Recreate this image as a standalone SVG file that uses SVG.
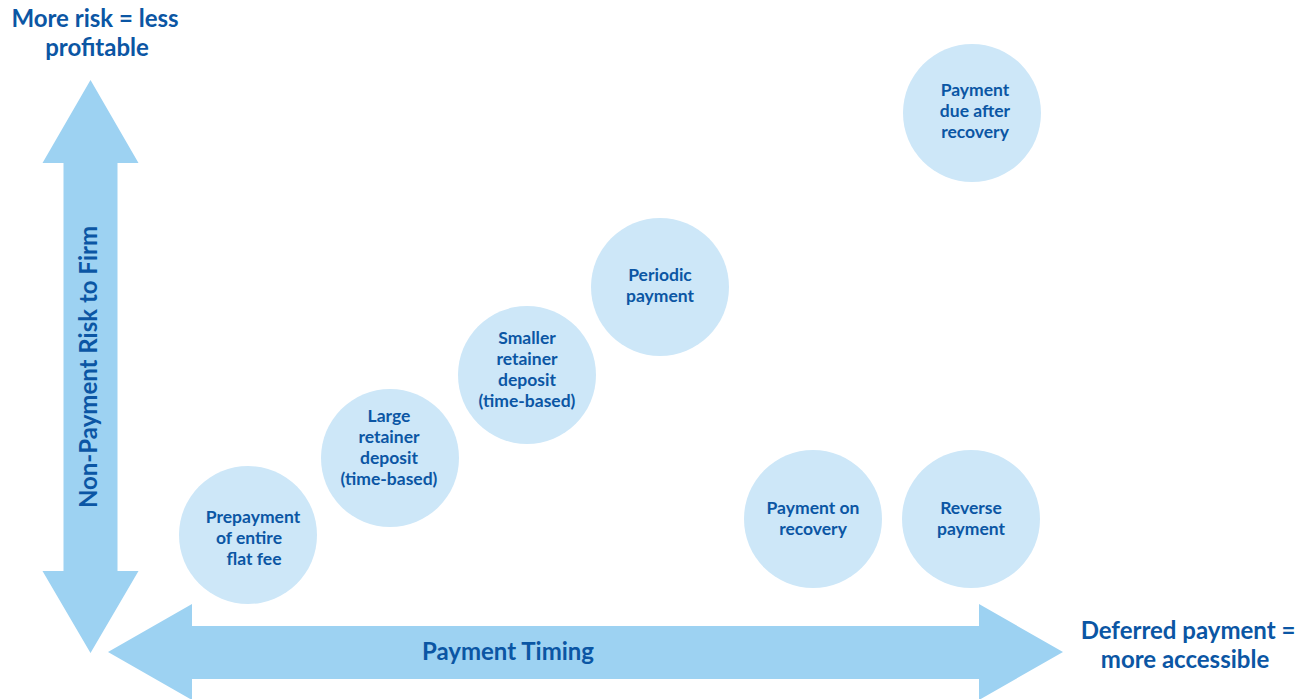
<svg xmlns="http://www.w3.org/2000/svg" width="1307" height="699" viewBox="0 0 1307 699">
<style>
.arrow{fill:#9dd2f2}
.c{fill:#cde7f8}
.t{font-family:Lato,"Liberation Sans",sans-serif;font-weight:700;fill:#0b56a4;text-anchor:middle}
.s{font-size:17.5px}
.b{font-size:24px}
</style>
<rect width="1307" height="699" fill="#fff"/>
<g id="connectors">
<polygon id="vaxis" class="arrow" points="90.5,80 138.5,163 117.5,163 117.5,571 138.5,571 90.5,653 42.5,571 63.5,571 63.5,163 42.5,163"/>
<polygon id="haxis" class="arrow" points="108,652 192,604 192,626 979,626 979,604 1063,652 979,700 979,679 192,679 192,700"/>
</g>
<g id="title-top"><text class="t b" x="95" y="27">More risk = less</text><text class="t b" x="97" y="56">profitable</text></g>
<g id="title-right"><text class="t b" x="1188" y="639">Deferred payment =</text><text class="t b" x="1185" y="668">more accessible</text></g>
<g id="label-x"><text class="t b" x="508" y="660">Payment Timing</text></g>
<g id="label-y"><text class="t b" transform="translate(97,367) rotate(-90)">Non-Payment Risk to Firm</text></g>
<g id="n1"><circle class="c" cx="248" cy="535" r="69"/><text class="t s" x="253" y="523">Prepayment</text><text class="t s" x="249" y="544">of entire</text><text class="t s" x="254" y="565">flat fee</text></g>
<g id="n2"><circle class="c" cx="390" cy="458" r="69"/><text class="t s" x="389" y="422">Large</text><text class="t s" x="389" y="443">retainer</text><text class="t s" x="389" y="464">deposit</text><text class="t s" x="389" y="485">(time-based)</text></g>
<g id="n3"><circle class="c" cx="527" cy="375" r="69"/><text class="t s" x="527" y="344">Smaller</text><text class="t s" x="527" y="365">retainer</text><text class="t s" x="527" y="386">deposit</text><text class="t s" x="527" y="407">(time-based)</text></g>
<g id="n4"><circle class="c" cx="660" cy="287" r="69"/><text class="t s" x="660" y="281">Periodic</text><text class="t s" x="660" y="302">payment</text></g>
<g id="n5"><circle class="c" cx="972" cy="113" r="69"/><text class="t s" x="975" y="96">Payment</text><text class="t s" x="975" y="117">due after</text><text class="t s" x="975" y="138">recovery</text></g>
<g id="n6"><circle class="c" cx="813" cy="519" r="69"/><text class="t s" x="813" y="514">Payment on</text><text class="t s" x="813" y="535">recovery</text></g>
<g id="n7"><circle class="c" cx="971" cy="519" r="69"/><text class="t s" x="971" y="514">Reverse</text><text class="t s" x="971" y="535">payment</text></g>
</svg>
